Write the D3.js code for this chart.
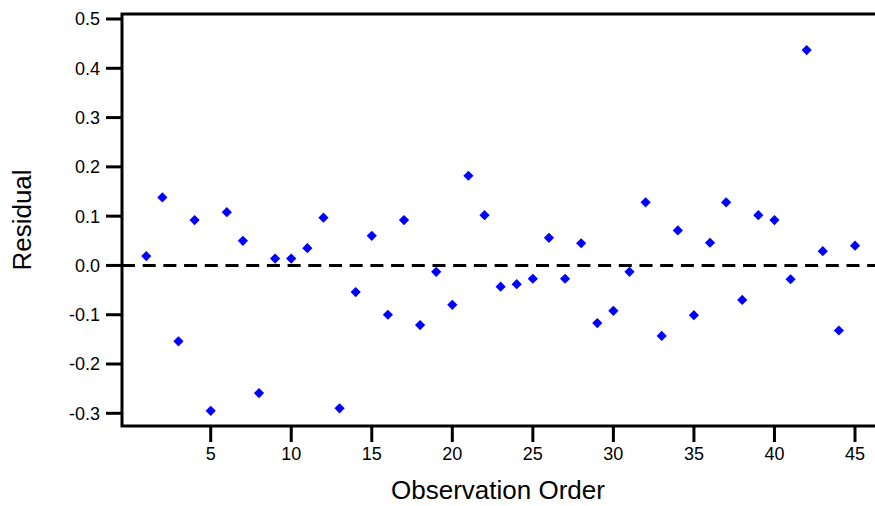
<!DOCTYPE html>
<html>
<head>
<meta charset="utf-8">
<script src="https://cdn.jsdelivr.net/npm/d3@7"></script>
<style>
  body { margin: 0; background: #fff; }
  text { font-family: "Liberation Sans", Arial, sans-serif; fill: #000; }
</style>
</head>
<body>
<div id="chart"></div>
<script>
// residuals by observation order
var order = d3.range(1, 46);
var residual = [
  0.019, 0.138, -0.154, 0.092, -0.295, 0.108, 0.050, -0.259, 0.014, 0.014,
  0.035, 0.097, -0.290, -0.054, 0.060, -0.100, 0.092, -0.121, -0.013, -0.080,
  0.182, 0.102, -0.043, -0.038, -0.027, 0.056, -0.027, 0.045, -0.117, -0.092,
  -0.013, 0.128, -0.143, 0.071, -0.101, 0.046, 0.128, -0.070, 0.102, 0.092,
  -0.028, 0.437, 0.029, -0.132, 0.040
];
var xTicks = [5, 10, 15, 20, 25, 30, 35, 40, 45];
var yTicks = [-0.3, -0.2, -0.1, 0.0, 0.1, 0.2, 0.3, 0.4, 0.5];
var yLabels = ["-0.3", "-0.2", "-0.1", "0.0", "0.1", "0.2", "0.3", "0.4", "0.5"];

var data = order.map(function(d, i){ return {obs: d, res: residual[i]}; });

var width = 875, height = 506;
var plotLeft = 122, plotTop = 14, plotBottom = 426;

var svg = d3.select("#chart").append("svg")
    .attr("width", width)
    .attr("height", height);

var x = d3.scaleLinear().domain([5, 45]).range([210.7, 855]);
var y = d3.scaleLinear().domain([-0.3, 0.5]).range([413.3, 19]);

var xEnd = width + 10;

// frame (right side runs off the page)
svg.append("path")
    .attr("d", "M" + xEnd + "," + plotTop + "H" + plotLeft + "V" + plotBottom + "H" + xEnd)
    .attr("fill", "none")
    .attr("stroke", "#000")
    .attr("stroke-width", 3);

// y ticks
var yAxis = svg.append("g");
yAxis.selectAll("line").data(yTicks).enter().append("line")
    .attr("x1", plotLeft - 16).attr("x2", plotLeft)
    .attr("y1", function(d){ return y(d); })
    .attr("y2", function(d){ return y(d); })
    .attr("stroke", "#000").attr("stroke-width", 3);
yAxis.selectAll("text").data(yTicks).enter().append("text")
    .attr("x", plotLeft - 22)
    .attr("y", function(d){ return y(d); })
    .attr("dy", "0.36em")
    .attr("text-anchor", "end")
    .style("font-size", "18px")
    .text(function(d, i){ return yLabels[i]; });

// x ticks
var xAxis = svg.append("g");
xAxis.selectAll("line").data(xTicks).enter().append("line")
    .attr("y1", plotBottom).attr("y2", plotBottom + 16)
    .attr("x1", function(d){ return x(d); })
    .attr("x2", function(d){ return x(d); })
    .attr("stroke", "#000").attr("stroke-width", 3);
xAxis.selectAll("text").data(xTicks).enter().append("text")
    .attr("y", 460)
    .attr("x", function(d){ return x(d); })
    .attr("text-anchor", "middle")
    .style("font-size", "18px")
    .text(function(d){ return d; });

// zero reference line
svg.append("line")
    .attr("x1", plotLeft).attr("x2", width)
    .attr("y1", y(0)).attr("y2", y(0))
    .attr("stroke", "#000")
    .attr("stroke-width", 3)
    .attr("stroke-dasharray", "13,7.7");

// points as diamonds
var diamond = d3.symbol().type(d3.symbolSquare).size(52);
svg.selectAll(".pt").data(data).enter().append("path")
    .attr("class", "pt")
    .attr("d", diamond)
    .attr("transform", function(d){
      return "translate(" + x(d.obs) + "," + y(d.res) + ") rotate(45)";
    })
    .attr("fill", "#0000ff");

// axis titles
svg.append("text")
    .attr("x", 498).attr("y", 499)
    .attr("text-anchor", "middle")
    .style("font-size", "26px")
    .text("Observation Order");

svg.append("text")
    .attr("transform", "translate(31,220) rotate(-90)")
    .attr("text-anchor", "middle")
    .style("font-size", "26px")
    .text("Residual");
</script>
</body>
</html>
